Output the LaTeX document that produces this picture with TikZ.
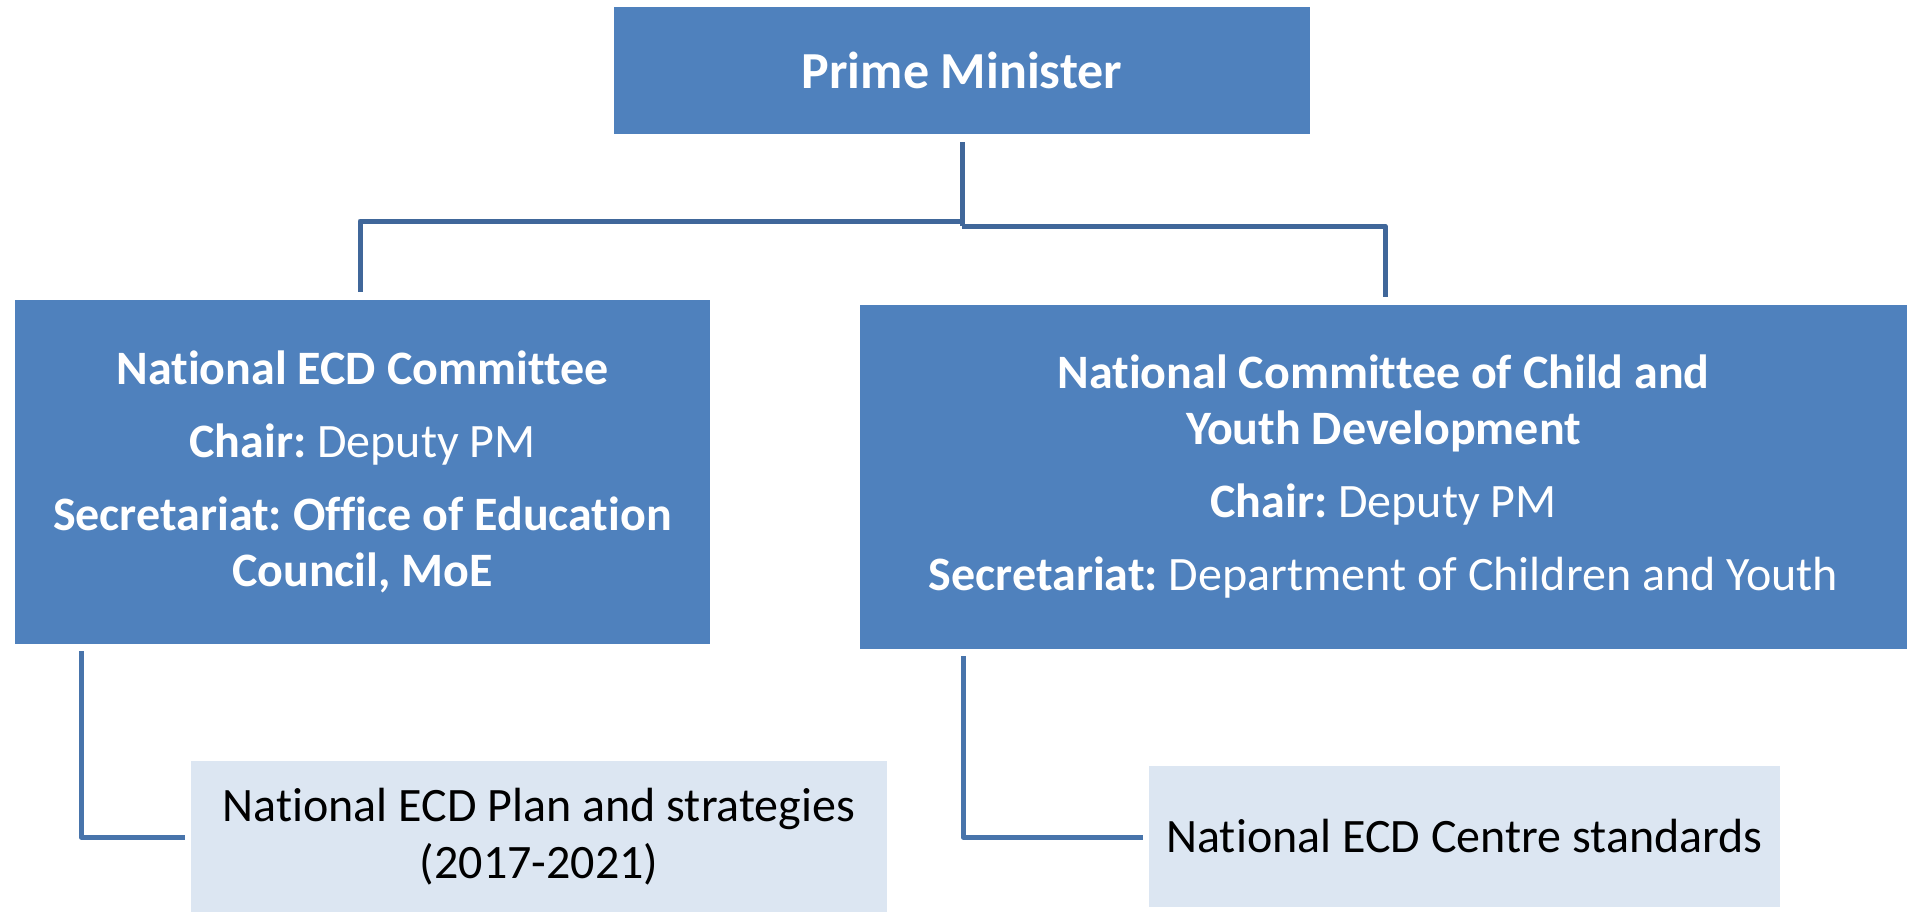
\documentclass[tikz,border=0pt]{standalone}
\usepackage{fontspec}
\setmainfont[Ligatures=NoCommon]{Carlito}
\frenchspacing
\definecolor{boxblue}{HTML}{4F81BD}
\definecolor{boxlight}{HTML}{DCE6F2}
\definecolor{conntop}{HTML}{40679A}
\definecolor{connbot}{HTML}{4874AB}
\tikzset{
  mainbox/.style={fill=boxblue, draw=none, inner sep=0pt, text=white, align=center,
    font=\fontsize{48}{56}\selectfont},
  subbox/.style={fill=boxlight, draw=none, inner sep=0pt, text=black, align=center,
    font=\fontsize{48}{57}\selectfont},
  conn/.style={line width=5pt, line join=round, line cap=butt},
}
\begin{document}
\begin{tikzpicture}[x=1pt, y=-1pt]
\useasboundingbox (0,0) rectangle (1907,911);
% boxes
\node[mainbox, minimum width=696pt, minimum height=127pt, font=\fontsize{52}{60}\selectfont\bfseries] (pm) at (962,70.5) {Prime Minister};
\node[mainbox, minimum width=695pt, minimum height=344pt] (lbox) at (362.5,472)
  {\textbf{National ECD Committee}\\[17pt]
   \textbf{Chair:} Deputy PM\\[17pt]
   \textbf{Secretariat: Office of Education}\\
   \textbf{Council, MoE}};
\node[mainbox, minimum width=1047pt, minimum height=344pt] (rbox) at (1383.5,477)
  {\textbf{National Committee of Child and}\\
   \textbf{Youth Development}\\[17pt]
   \textbf{Chair:} Deputy PM\\[17pt]
   \textbf{Secretariat:} Department of Children and Youth};
\node[subbox, minimum width=696pt, minimum height=152pt] (blbox) at (539,837)
  {National ECD Plan and strategies\\(2017-2021)};
\node[subbox, minimum width=631pt, minimum height=141pt] (brbox) at (1464.5,836.5)
  {National ECD Centre standards};
% connector points
\coordinate (ptop) at (962,142);
\coordinate (pmid) at (962,226);
\coordinate (lturn) at (962,221);
\coordinate (lcorner) at (360,221);
\coordinate (lend) at (360,292);
\coordinate (rcorner) at (1385,226);
\coordinate (rend) at (1385,297);
\coordinate (blstart) at (81,651);
\coordinate (blcorner) at (81,837);
\coordinate (blend) at (185,837);
\coordinate (brstart) at (963,656);
\coordinate (brcorner) at (963,837);
\coordinate (brend) at (1143,837);
% connectors
\draw[conn, draw=conntop] (ptop) -- (pmid);
\draw[conn, draw=conntop] (lturn) -- (lcorner) -- (lend);
\draw[conn, draw=conntop] (pmid) -- (rcorner) -- (rend);
\draw[conn, draw=connbot] (blstart) -- (blcorner) -- (blend);
\draw[conn, draw=connbot] (brstart) -- (brcorner) -- (brend);
\end{tikzpicture}
\end{document}
